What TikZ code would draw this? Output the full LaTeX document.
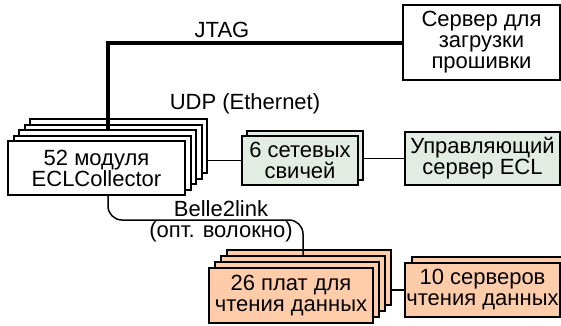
\documentclass[tikz,border=0pt]{standalone}
\usepackage{fontspec}
\setmainfont{Liberation Sans}
\usetikzlibrary{positioning,calc}
\definecolor{switchgreen}{RGB}{227,236,226}
\definecolor{readorange}{RGB}{255,204,170}
\begin{document}
\begin{tikzpicture}[x=1pt, y=-1pt,
            every node/.style={font=\fontsize{22}{21}\selectfont},
            box/.style={rectangle, draw=black, line width=2pt, fill=white, align=center, inner sep=0pt},
            collbox/.style={box, minimum width=177pt, minimum height=54pt},
            swbox/.style={box, fill=switchgreen, minimum width=116pt, minimum height=49pt},
            mgrbox/.style={box, fill=switchgreen, minimum width=155pt, minimum height=53pt},
            rbbox/.style={box, fill=readorange, minimum width=164pt, minimum height=55pt},
            rsbox/.style={box, fill=readorange, minimum width=155pt, minimum height=54pt},
            link/.style={line width=1.5pt},
            jtag/.style={line width=4pt}
        ]
        \useasboundingbox (0,0) rectangle (561,325);
        % stacked modules
        \foreach \k in {4,3,2,1}
            \node[collbox, xshift=\k*5.5pt, yshift=\k*5.5pt] (coll\k) at (96.5,168) {};
        \node[collbox] (coll) at (96.5,168) {52 модуля\\ECLCollector};
        
        \node[swbox, xshift=5pt, yshift=5pt] (sw1) at (300,160.5) {};
        \node[swbox] (sw) at (300,160.5) {6 сетевых\\свичей};
        \node[mgrbox] (mgr) at (482.5,158.5) {Управляющий\\сервер ECL};
        \node[box, minimum width=157pt, minimum height=75pt] (srv) at (481.5,42.5) {Сервер для\\загрузки\\прошивки};
        
        \foreach \k in {3,2,1}
            \node[rbbox, xshift=\k*6pt, yshift=\k*6pt] (rb\k) at (291,295.5) {};
        \node[rbbox] (rb) at (291,295.5) {26 плат для\\чтения данных};
        \node[rsbox, xshift=7pt, yshift=6pt] (rs1) at (482.5,290) {};
        \node[rsbox] (rs) at (482.5,290) {10 серверов\\чтения данных};
        
        \draw[link] (sw.west) -- (sw.west -| coll4.east);
        \draw[link] (mgr.west) -- (mgr.west -| sw1.east);
        \draw[link] (rs.west) -- (rs.west -| rb3.east);
        \draw[jtag] (srv.west) -| (coll2.north);
        \draw[link, rounded corners=14pt] ([xshift=11.5pt]coll.south) |- (rb2.north |- 0,220) -- (rb2.north);
        
        \node (jtaglbl) at (222,30) {JTAG};
        \node (udplbl) at (245,104) {UDP (Ethernet)};
        \node (b2llbl) at (221,209) {Belle2link};
        \node (fiberlbl) at (221,232) {(опт. волокно)};
        \end{tikzpicture}
\end{document}
